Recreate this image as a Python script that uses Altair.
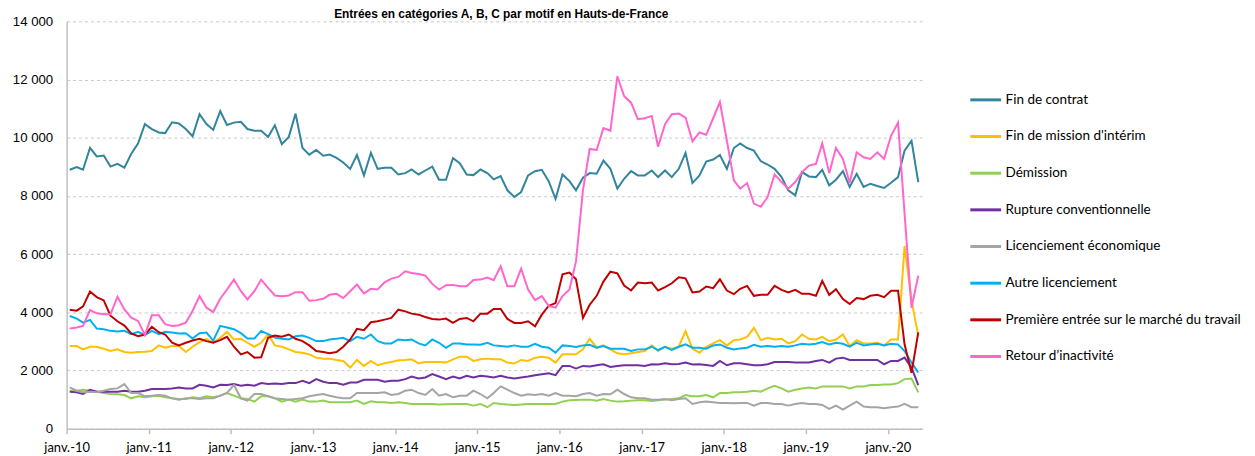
import altair as alt
import pandas as pd

# ---- data (monthly, janv. 2010 -> mai 2020) ----
series = [
    "Fin de contrat",
    "Fin de mission d'intérim",
    "Démission",
    "Rupture conventionnelle",
    "Licenciement économique",
    "Autre licenciement",
    "Première entrée sur le marché du travail",
    "Retour d’inactivité",
]
colors = ["#31859c", "#ffc000", "#92d050", "#7030a0", "#a5a5a5", "#00b0f0", "#c00000", "#ff66cc"]

fin_contrat = [
    8900, 8990, 8900, 9650, 9360, 9390, 9010, 9100, 8970, 9440, 9810, 10470, 10300, 10180, 10160, 10530,
    10490, 10300, 10050, 10810, 10470, 10270, 10920, 10440, 10520, 10550, 10300, 10240, 10240, 10030, 10430,
    9780, 10030, 10830, 9650, 9420, 9580, 9380, 9420, 9310, 9150, 8930, 9410,
    8705, 9478, 8932, 8966, 8966, 8739, 8784, 8909, 8739, 8875, 9011, 8557, 8557, 9296, 9125, 8739, 8716,
    8909, 8784, 8568, 8682, 8193, 7966, 8136, 8705, 8852, 8898, 8500, 7898, 8739, 8511, 8193, 8625, 8784,
    8761, 9216, 8932,
    8250, 8591, 8852, 8705, 8705, 8875, 8648, 8875, 8648, 8932, 9478, 8443, 8705, 9182, 9250, 9409, 8932,
    9648, 9807, 9648, 9557, 9193, 9080, 8932, 8648, 8193, 8023, 8818, 8670, 8648, 8898, 8364, 8557, 8852,
    8307, 8761, 8307, 8420, 8341, 8273, 8455, 8648, 9557, 9898, 8477,
]
fin_mission = [
    2841, 2841, 2727, 2818, 2818, 2750, 2670, 2727, 2636, 2614, 2636, 2648, 2670, 2864, 2784, 2841, 2841,
    2636, 2818, 2977, 3091, 2955, 3125, 3330, 3068, 3091, 2955, 2818, 2955, 3239, 2864,
    2818, 2727, 2636, 2614, 2557, 2443, 2409, 2409, 2364, 2330, 2102, 2364, 2159, 2330, 2182, 2250, 2295,
    2352, 2364, 2386, 2250, 2295, 2295, 2295, 2273, 2386, 2477, 2477, 2330, 2386, 2409, 2386,
    2386, 2273, 2239, 2364, 2330, 2443, 2477, 2443, 2273, 2557, 2557, 2557, 2727, 3091, 2784, 2864, 2727,
    2591, 2557, 2591, 2636, 2670, 2864, 2670, 2818, 2750, 2818, 3352, 2750, 2614, 2818,
    2932, 3045, 2864, 3045, 3068, 3159, 3466, 3045, 3125, 3068, 3091, 2932, 3011, 3239, 3091, 3068, 3159,
    3011, 3068, 3239, 2841, 3045, 2932, 2932, 2955, 2864, 3068, 3068, 6280, 4400, 3200,
]
demission = [
    1307, 1307, 1341, 1307, 1273, 1227, 1193, 1182, 1159, 1045, 1114, 1080, 1114, 1136, 1080, 1045, 1023,
    1023, 1080, 1045, 1114, 1080, 1136, 1227, 1136, 1045, 1023, 932, 1114, 1114, 1045,
    932, 1000, 932, 1000, 932, 932, 966, 909, 909, 909, 909, 966, 852, 943, 909, 909, 886, 909, 886, 852,
    852, 852, 852, 830, 841, 852, 852, 852, 795, 852, 739, 886,
    852, 830, 818, 830, 852, 852, 852, 852, 852, 932, 977, 989, 1000, 1000, 966, 1023, 966, 932, 943, 966,
    977, 977, 955, 977, 1000, 1023, 1045, 1159, 1114, 1114, 1159,
    1080, 1227, 1227, 1250, 1250, 1273, 1307, 1273, 1386, 1477, 1386, 1273, 1341, 1386, 1420, 1386, 1455,
    1455, 1455, 1455, 1386, 1455, 1455, 1500, 1500, 1523, 1523, 1568, 1705, 1727, 1250,
]
rupture = [
    1273, 1250, 1193, 1341, 1273, 1273, 1273, 1273, 1307, 1273, 1273, 1307, 1364, 1364, 1364, 1386, 1420,
    1386, 1386, 1511, 1477, 1420, 1511, 1500, 1534, 1477, 1511, 1477, 1568, 1534, 1557,
    1534, 1568, 1568, 1648, 1568, 1705, 1614, 1568, 1568, 1511, 1591, 1591, 1682, 1682, 1682, 1614, 1648,
    1648, 1705, 1795, 1727, 1761, 1875, 1795, 1705, 1795, 1727, 1818, 1761, 1818, 1795, 1761,
    1818, 1761, 1727, 1761, 1795, 1841, 1875, 1909, 1841, 2159, 2159, 2068, 2159, 2136, 2182, 2216, 2125,
    2159, 2182, 2182, 2182, 2159, 2216, 2205, 2250, 2216, 2227, 2273, 2205, 2216, 2193,
    2159, 2330, 2182, 2250, 2250, 2216, 2182, 2182, 2216, 2295, 2295, 2295, 2273, 2273, 2273, 2330, 2364,
    2273, 2409, 2443, 2364, 2364, 2364, 2364, 2364, 2216, 2330, 2330, 2443, 2102, 1500,
]
licenciement_eco = [
    1420, 1307, 1250, 1273, 1250, 1307, 1364, 1386, 1534, 1227, 1227, 1114, 1136, 1159, 1136, 1045, 1000,
    1045, 1045, 1023, 1045, 1045, 1136, 1227, 1500, 1045, 966, 1193, 1193, 1114, 1045,
    1023, 1000, 1023, 1045, 1114, 1159, 1193, 1136, 1080, 1045, 1045, 1227, 1227, 1227, 1227, 1250, 1159,
    1193, 1307, 1341, 1227, 1159, 1364, 1136, 1193, 1080, 1136, 1136, 1307, 1193, 1045, 1227,
    1455, 1341, 1227, 1136, 1182, 1159, 1193, 1136, 1227, 1136, 1136, 1114, 1193, 1227, 1136, 1193, 1182,
    1341, 1193, 1080, 1045, 1045, 1000, 1000, 1023, 977, 1023, 1045, 852, 909, 932,
    909, 886, 886, 875, 886, 886, 795, 886, 886, 852, 852, 795, 852, 886, 852, 852, 818, 682, 795, 659,
    795, 932, 761, 739, 739, 705, 739, 761, 852, 739, 739,
]
autre_licenciement = [
    3875, 3784, 3648, 3739, 3443, 3420, 3364, 3341, 3364, 3250, 3330, 3216, 3364, 3250, 3330, 3307, 3273,
    3284, 3102, 3284, 3307, 3023, 3534, 3477, 3420, 3284, 3102, 3102, 3364, 3250, 3136,
    3091, 3068, 3182, 3205, 3125, 3011, 3011, 3068, 3091, 3125, 3011, 3159, 3091, 3239, 3011, 2932, 2932,
    3068, 3045, 3068, 2932, 2864, 3068, 2955, 2784, 2932, 2932, 2898, 2898, 2886, 2955, 2864,
    2841, 2818, 2864, 2818, 2818, 2920, 2818, 2784, 2614, 2864, 2841, 2807, 2864, 2886, 2784, 2841, 2750,
    2750, 2750, 2670, 2727, 2727, 2818, 2705, 2818, 2705, 2818, 2898, 2784, 2784, 2750,
    2864, 2898, 2784, 2727, 2761, 2784, 2886, 2818, 2841, 2818, 2841, 2818, 2864, 2920, 2898, 2920, 2977,
    2898, 2955, 2920, 2818, 2955, 2864, 2898, 2920, 2864, 2920, 2898, 2670, 2273, 1932,
]
premiere_entree = [
    4091, 4057, 4205, 4716, 4523, 4409, 3886, 3693, 3545, 3273, 3182, 3239, 3500, 3318, 3239, 2955, 2864,
    2955, 3034, 3091, 3011, 2955, 3045, 3159, 2818, 2557, 2636, 2443, 2455, 3125, 3205,
    3159, 3239, 3091, 3011, 2864, 2670, 2636, 2591, 2636, 2818, 3068, 3432, 3386, 3659, 3693, 3750, 3807,
    4091, 4034, 3955, 3920, 3841, 3773, 3750, 3784, 3636, 3773, 3807, 3693, 3955, 3955, 4114,
    4114, 3773, 3636, 3636, 3693, 3523, 3920, 4227, 4318, 5307, 5364, 5136, 3807, 4261, 4568, 5057, 5398,
    5341, 4920, 4750, 5023, 5000, 5023, 4750, 4864, 5000, 5205, 5170, 4682, 4716, 4886,
    4830, 5136, 4750, 4625, 4807, 4909, 4568, 4602, 4602, 4909, 4773, 4682, 4773, 4636, 4636, 4568, 5080,
    4602, 4795, 4455, 4284, 4489, 4455, 4568, 4602, 4523, 4739, 4739, 2900, 1920, 3310,
]
retour_inactivite = [
    3443, 3477, 3534, 4080, 3966, 3932, 3932, 4534, 4102, 3818, 3705, 3216, 3898, 3898, 3591, 3534, 3557,
    3648, 4045, 4557, 4159, 4011, 4466, 4784, 5125, 4727, 4443, 4727, 5125, 4841, 4580, 4557, 4580, 4693,
    4693, 4398, 4420, 4466, 4602, 4636, 4489, 4727, 4955,
    4648, 4807, 4784, 5034, 5159, 5216, 5409, 5352, 5318, 5261, 4977, 4784, 4932, 4943, 4898, 4898, 5114,
    5125, 5193, 5102, 5580, 4898, 4898, 5500, 4784, 4420, 4557, 4216, 4159, 4557, 4784, 5750, 8200, 9614,
    9580, 10330, 10240,
    12114, 11432, 11205, 10636, 10670, 10750, 9693, 10466, 10807, 10830, 10693, 9875, 10182, 10102, 10670,
    11227, 9898, 8534, 8250, 8443, 7739, 7625, 7966, 8739, 8477, 8250, 8477, 8818, 9045, 9102, 9807, 8784,
    9648, 9273, 8443, 9500, 9330, 9273, 9500, 9273, 10068, 10523, 7400, 4159, 5261,
]

values = [fin_contrat, fin_mission, demission, rupture, licenciement_eco,
          autre_licenciement, premiere_entree, retour_inactivite]

dates = pd.date_range("2010-01-01", periods=125, freq="MS") + pd.Timedelta(days=14)
year_ticks = [alt.DateTime(year=y, month=1, date=1) for y in range(2010, 2021)]

rows = []
for k, (name, vals) in enumerate(zip(series, values)):
    for d, v in zip(dates, vals):
        rows.append({"date": d, "value": v, "motif": name, "ordre": k})
df = pd.DataFrame(rows)

chart = (
    alt.Chart(df)
    .mark_line(strokeWidth=2, interpolate="linear")
    .encode(
        x=alt.X(
            "date:T",
            scale=alt.Scale(domain=[alt.DateTime(year=2010, month=1, date=1),
                                    alt.DateTime(year=2020, month=6, date=1)]),
            axis=alt.Axis(
                values=year_ticks,
                labelExpr="'janv.-' + timeFormat(datum.value, '%y')",
                title=None, grid=False, tickSize=5, tickColor="#bfbfbf", tickWidth=1.5,
                domainColor="#bfbfbf", domainWidth=1.5,
                labelFont="Lato", labelFontSize=13, labelColor="#000000", labelPadding=8,
                labelFlush=False,
            ),
        ),
        y=alt.Y(
            "value:Q",
            scale=alt.Scale(domain=[0, 14000], nice=False),
            axis=alt.Axis(
                values=list(range(0, 14001, 2000)),
                labelExpr="replace(format(datum.value, ','), ',', ' ')",
                title=None, ticks=False, tickSize=0, labelPadding=14,
                grid=True, gridDash=[3, 3], gridColor="#c8c8c8", gridWidth=1,
                domainColor="#bfbfbf", domainWidth=1.5,
                labelFont="Liberation Sans", labelFontSize=13.3, labelColor="#000000",
            ),
        ),
        color=alt.Color(
            "motif:N",
            scale=alt.Scale(domain=series, range=colors),
            legend=alt.Legend(
                orient="none", legendX=908, legendY=62, title=None,
                symbolType="stroke", symbolSize=961, symbolStrokeWidth=3,
                labelFont="Lato", labelFontSize=13.6, labelColor="#000000",
                labelOffset=3, rowPadding=12.9, padding=0, labelLimit=400,
            ),
        ),
        order=alt.Order("ordre:Q"),
        detail="motif:N",
    )
    .properties(
        width=861, height=410,
        title=alt.TitleParams(
            "Entrées en catégories A, B, C par motif en Hauts-de-France",
            font="Liberation Sans", fontSize=12, fontWeight="bold", color="#000000",
            anchor="middle", frame="group", offset=0, baseline="alphabetic", dx=7, dy=16,
        ),
        autosize=alt.AutoSizeParams(type="none"),
        padding={"left": 59, "top": 12, "right": 327, "bottom": 26},
    )
    .configure_view(stroke=None)
)

chart.save("out.html", embed_options={"renderer": "svg", "actions": False})
